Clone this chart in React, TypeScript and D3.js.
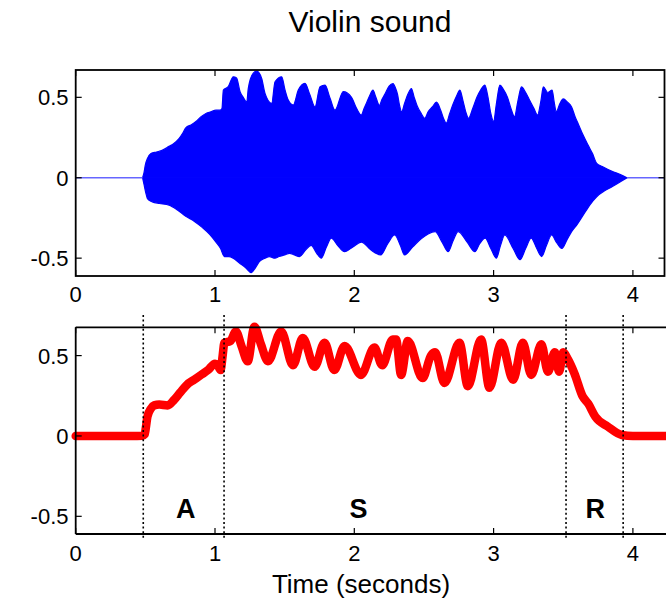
import React from "react";
import * as d3 from "d3";

// ---------- data ----------
const title = "Violin sound";
const xLabel = "Time (seconds)";
const xTicks = [0, 1, 2, 3, 4];
const yTicks = [-0.5, 0, 0.5];
const yTickLabels = ["-0.5", "0", "0.5"];

// waveform envelope (upper / lower): [time, amplitude]
const waveUpper: [number, number][] = [
  [0.48, 0], [0.49, 0.03], [0.5, 0.08], [0.515, 0.12], [0.54, 0.15], [0.58, 0.16], [0.62, 0.17],
  [0.67, 0.195], [0.7, 0.21], [0.743, 0.245], [0.77, 0.28], [0.79, 0.31], [0.83, 0.33], [0.863, 0.35],
  [0.9, 0.38], [0.935, 0.4], [0.97, 0.41], [1.007, 0.42], [1.036, 0.42], [1.05, 0.43], [1.06, 0.545],
  [1.095, 0.566], [1.131, 0.628], [1.155, 0.62], [1.18, 0.535], [1.203, 0.5], [1.228, 0.47], [1.239, 0.556],
  [1.275, 0.65], [1.3, 0.663], [1.335, 0.618], [1.359, 0.525], [1.407, 0.463], [1.431, 0.597], [1.479, 0.628],
  [1.503, 0.545], [1.526, 0.483], [1.562, 0.452], [1.598, 0.545], [1.646, 0.587], [1.682, 0.514], [1.718, 0.44],
  [1.754, 0.566], [1.79, 0.576], [1.826, 0.494], [1.861, 0.42], [1.921, 0.535], [1.98, 0.5], [2.017, 0.43],
  [2.05, 0.39], [2.07, 0.43], [2.09, 0.47], [2.11, 0.51],
  [2.134, 0.545], [2.155, 0.5], [2.18, 0.45], [2.2, 0.49], [2.22, 0.52], [2.25, 0.57], [2.278, 0.586],
  [2.295, 0.56], [2.31, 0.52], [2.325, 0.45], [2.34, 0.41], [2.36, 0.46], [2.385, 0.52], [2.41, 0.555],
  [2.43, 0.5], [2.45, 0.45], [2.48, 0.4], [2.506, 0.37], [2.53, 0.41], [2.56, 0.44], [2.59, 0.47],
  [2.62, 0.42], [2.64, 0.37], [2.66, 0.34], [2.685, 0.4], [2.71, 0.46], [2.735, 0.51], [2.758, 0.545],
  [2.78, 0.48], [2.8, 0.41], [2.82, 0.37], [2.85, 0.43], [2.88, 0.5], [2.91, 0.55], [2.937, 0.576],
  [2.96, 0.5], [2.98, 0.4], [3.0, 0.35], [3.02, 0.46], [3.045, 0.576], [3.07, 0.55], [3.1, 0.5],
  [3.125, 0.43], [3.15, 0.38], [3.175, 0.48], [3.2, 0.565], [3.23, 0.53], [3.26, 0.48], [3.29, 0.43],
  [3.315, 0.39], [3.34, 0.48], [3.357, 0.565], [3.39, 0.53], [3.42, 0.545], [3.435, 0.47], [3.45, 0.41],
  [3.475, 0.46], [3.5, 0.49], [3.53, 0.47], [3.56, 0.44], [3.585, 0.38], [3.61, 0.33], [3.64, 0.27],
  [3.68, 0.2], [3.71, 0.15], [3.74, 0.09], [3.78, 0.07], [3.85, 0.04], [3.91, 0.02], [3.957, 0],
];
const waveLower: [number, number][] = [
  [0.48, 0], [0.49, -0.04], [0.505, -0.1], [0.515, -0.13], [0.55, -0.15], [0.6, -0.16], [0.67, -0.17],
  [0.73, -0.2], [0.79, -0.24], [0.85, -0.27], [0.91, -0.31], [0.96, -0.35], [1.007, -0.4], [1.04, -0.44],
  [1.067, -0.49], [1.1, -0.49], [1.13, -0.5], [1.175, -0.53], [1.22, -0.56], [1.26, -0.59], [1.29, -0.56],
  [1.32, -0.52], [1.36, -0.5], [1.39, -0.49], [1.43, -0.5], [1.46, -0.49], [1.5, -0.48], [1.535, -0.47],
  [1.57, -0.48], [1.607, -0.49], [1.65, -0.45], [1.69, -0.42], [1.73, -0.47], [1.763, -0.5], [1.8, -0.43],
  [1.835, -0.376], [1.88, -0.42], [1.93, -0.46], [1.99, -0.43], [2.05, -0.4], [2.12, -0.45], [2.19, -0.48],
  [2.24, -0.41], [2.29, -0.356], [2.33, -0.42], [2.36, -0.48], [2.42, -0.43], [2.48, -0.38], [2.53, -0.35],
  [2.58, -0.335], [2.63, -0.4], [2.674, -0.46], [2.71, -0.39], [2.746, -0.335], [2.81, -0.4], [2.866, -0.46],
  [2.9, -0.41], [2.94, -0.376], [2.98, -0.44], [3.02, -0.5], [3.05, -0.42], [3.08, -0.356], [3.14, -0.44],
  [3.19, -0.51], [3.23, -0.44], [3.27, -0.376], [3.31, -0.44], [3.345, -0.49], [3.38, -0.42], [3.417, -0.356],
  [3.45, -0.4], [3.49, -0.44], [3.53, -0.38], [3.56, -0.335], [3.6, -0.29], [3.63, -0.25], [3.66, -0.21],
  [3.69, -0.17], [3.74, -0.118], [3.8, -0.08], [3.85, -0.056], [3.91, -0.025], [3.957, 0],
];
// silent parts of the waveform
const silenceBefore: [number, number][] = [[0, 0], [0.48, 0]];
const silenceAfter: [number, number][] = [[3.957, 0], [4.23, 0]];

// amplitude envelope (red)
const envelope: [number, number][] = [
  [0, 0], [0.2, 0], [0.4, 0], [0.48, 0.002], [0.495, 0.01], [0.505, 0.06], [0.515, 0.12], [0.54, 0.17],
  [0.563, 0.19], [0.6, 0.195], [0.66, 0.19], [0.707, 0.225], [0.75, 0.27], [0.8, 0.32], [0.85, 0.35],
  [0.9, 0.38], [0.95, 0.41], [1.0, 0.45], [1.02, 0.44], [1.04, 0.41], [1.055, 0.5], [1.067, 0.58],
  [1.09, 0.585], [1.11, 0.59], [1.15, 0.65], [1.19, 0.56], [1.235, 0.465], [1.283, 0.68], [1.33, 0.57],
  [1.38, 0.465], [1.475, 0.65], [1.56, 0.44], [1.63, 0.61], [1.715, 0.43], [1.786, 0.58], [1.856, 0.41],
  [1.93, 0.56], [2.048, 0.38], [2.144, 0.55], [2.2, 0.44], [2.276, 0.6], [2.3, 0.6], [2.336, 0.38],
  [2.384, 0.59], [2.49, 0.36], [2.55, 0.5], [2.58, 0.52], [2.647, 0.33], [2.755, 0.58], [2.815, 0.31],
  [2.91, 0.6], [2.97, 0.3], [3.055, 0.58], [3.14, 0.35], [3.21, 0.58], [3.27, 0.38], [3.343, 0.57],
  [3.39, 0.4], [3.44, 0.52], [3.47, 0.4], [3.5, 0.52], [3.535, 0.475], [3.58, 0.39], [3.64, 0.245],
  [3.68, 0.2], [3.73, 0.12], [3.82, 0.058], [3.92, 0.006], [4.0, 0], [4.5, 0],
];

// ADSR phase boundaries and labels
const boundaries = [0.485, 1.065, 3.52, 3.93];
const phaseLabels = ["A", "S", "R"];
const phaseLabelTimes = [0.79, 2.03, 3.73];
const phaseLabelValue = -0.51;

const xDomainTop: [number, number] = [0, 4.227];
const yDomainTop: [number, number] = [-0.611, 0.67];
const xDomainBot: [number, number] = [0, 4.5];
const yDomainBot: [number, number] = [-0.61, 0.676];

const FONT = "'Liberation Sans', Arial, Helvetica, sans-serif";

export default function App() {
  const W = 666, H = 598;
  const left = 75.7;
  const top1 = 70, bot1 = 276, right1 = 664.5;
  const top2 = 327.3, bot2 = 534;
  const pxPerSec = 139.3;

  const xT = d3.scaleLinear().domain(xDomainTop).range([left, left + pxPerSec * xDomainTop[1]]);
  const yT = d3.scaleLinear().domain(yDomainTop).range([bot1, top1]);
  const xB = d3.scaleLinear().domain(xDomainBot).range([left, left + pxPerSec * xDomainBot[1]]);
  const yB = d3.scaleLinear().domain(yDomainBot).range([bot2, top2]);
  const right2 = xB.range()[1];

  const lineT = d3.line<[number, number]>().x(d => xT(d[0])).y(d => yT(d[1]));
  const areaT = d3.area<[number, number]>()
    .x(d => xT(d[0]))
    .y0(yT(0))
    .y1(d => yT(d[1]))
    .curve(d3.curveMonotoneX);
  const upperPath = areaT(waveUpper) || "";
  const lowerPath = areaT(waveLower) || "";
  const envLine = d3.line<[number, number]>().x(d => xB(d[0])).y(d => yB(d[1])).curve(d3.curveMonotoneX)(envelope) || "";

  const tk = 6;
  const tickFont = 22;

  return (
    <svg width={W} height={H} style={{ position: "absolute", left: 0, top: 0, background: "#fff" }} fontFamily={FONT}>
      <rect x={0} y={0} width={W} height={H} fill="#fff" />
      {/* title */}
      <text x={370} y={31.5} fontSize={30} textAnchor="middle" fill="#000">{title}</text>

      {/* ---------- top plot ---------- */}
      <path d={upperPath} fill="#0000ff" stroke="#0000ff" strokeWidth={1.2} strokeLinejoin="round" />
      <path d={lowerPath} fill="#0000ff" stroke="#0000ff" strokeWidth={1.2} strokeLinejoin="round" />
      <path d={lineT(silenceBefore) || ""} stroke="#6666ff" strokeWidth={1.5} fill="none" />
      <path d={lineT(silenceAfter) || ""} stroke="#6666ff" strokeWidth={1.5} fill="none" />
      <rect x={left} y={top1} width={right1 - left} height={bot1 - top1} fill="none" stroke="#000" strokeWidth={1.8} />
      {xTicks.map(t => (
        <g key={"xt" + t}>
          <line x1={xT(t)} x2={xT(t)} y1={bot1} y2={bot1 - tk} stroke="#000" strokeWidth={1.2} />
          <line x1={xT(t)} x2={xT(t)} y1={top1} y2={top1 + tk} stroke="#000" strokeWidth={1.2} />
          <text x={xT(t)} y={302} fontSize={tickFont} textAnchor="middle">{t}</text>
        </g>
      ))}
      {yTicks.map((v, i) => (
        <g key={"yt" + v}>
          <line x1={left} x2={left + tk} y1={yT(v)} y2={yT(v)} stroke="#000" strokeWidth={1.2} />
          <line x1={right1} x2={right1 - tk} y1={yT(v)} y2={yT(v)} stroke="#000" strokeWidth={1.2} />
          <text x={68.5} y={yT(v)} dy="0.36em" fontSize={tickFont} textAnchor="end">{yTickLabels[i]}</text>
        </g>
      ))}

      {/* ---------- bottom plot ---------- */}
      <path d={envLine} stroke="#ff0000" strokeWidth={8.5} fill="none" strokeLinejoin="round" strokeLinecap="round" />
      <line x1={left} x2={right2} y1={top2} y2={top2} stroke="#000" strokeWidth={1.8} />
      <line x1={left} x2={right2} y1={bot2} y2={bot2} stroke="#000" strokeWidth={1.8} />
      <line x1={left} x2={left} y1={top2} y2={bot2} stroke="#000" strokeWidth={1.8} />
      {xTicks.map(t => (
        <g key={"xb" + t}>
          <line x1={xB(t)} x2={xB(t)} y1={bot2} y2={bot2 - tk} stroke="#000" strokeWidth={1.2} />
          <line x1={xB(t)} x2={xB(t)} y1={top2} y2={top2 + tk} stroke="#000" strokeWidth={1.2} />
          <text x={xB(t)} y={561} fontSize={tickFont} textAnchor="middle">{t}</text>
        </g>
      ))}
      {yTicks.map((v, i) => (
        <g key={"yb" + v}>
          <line x1={left} x2={left + tk} y1={yB(v)} y2={yB(v)} stroke="#000" strokeWidth={1.2} />
          <text x={68.5} y={yB(v)} dy="0.36em" fontSize={tickFont} textAnchor="end">{yTickLabels[i]}</text>
        </g>
      ))}
      {boundaries.map(b => (
        <line key={"b" + b} x1={xB(b)} x2={xB(b)} y1={315} y2={540} stroke="#000" strokeWidth={1.6} strokeDasharray="2,2.6" />
      ))}
      {phaseLabels.map((l, i) => (
        <text key={l} x={xB(phaseLabelTimes[i])} y={yB(phaseLabelValue)} fontSize={27} fontWeight="bold" textAnchor="middle">{l}</text>
      ))}
      <text x={361} y={593} fontSize={26} textAnchor="middle">{xLabel}</text>
    </svg>
  );
}
